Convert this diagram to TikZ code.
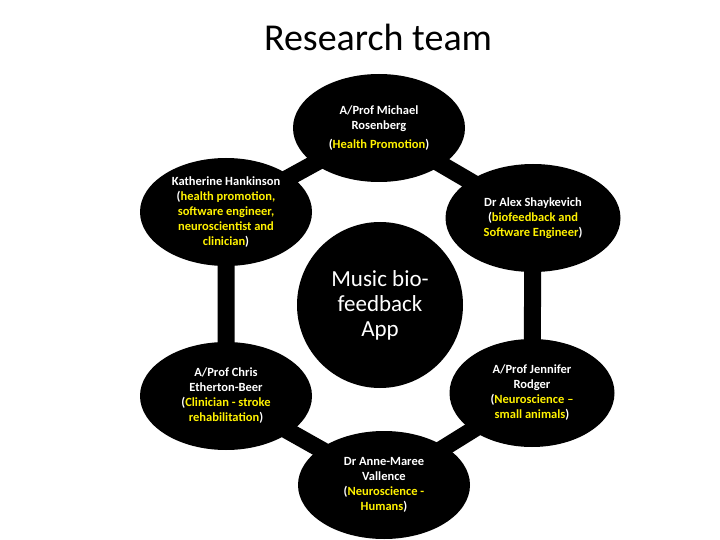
\documentclass[tikz,border=0pt]{standalone}
\usepackage{fontspec}
\setmainfont{Carlito}
\usetikzlibrary{shapes.geometric}
\begin{document}
\begin{tikzpicture}[x=1pt,y=-1pt,
  person/.style={ellipse,fill=black,text=white,minimum width=172pt,minimum height=108pt,align=center,inner sep=0pt,font=\bfseries\fontsize{12.5}{15}\selectfont},
  link/.style={line width=17pt,black}]
\useasboundingbox (0,0) rectangle (720,540);
\clip (0,0) rectangle (720,540);
\newcommand{\yl}[1]{\textcolor{yellow}{#1}}
\node (title) at (378,37) {\fontsize{38}{42}\selectfont Research team};
\coordinate (t) at (379,128);
\coordinate (ul) at (226,212);
\coordinate (ur) at (533,218);
\coordinate (ll) at (226,396);
\coordinate (lr) at (532,393);
\coordinate (b) at (384,485);
\draw[link] (t) -- (ur) -- (lr) -- (b) -- (ll) -- (ul) -- cycle;
\node[person] (nt) at (t) {A/Prof Michael\\Rosenberg\\[4pt](\yl{Health Promotion})};
\node[person] (nul) at (ul) {Katherine Hankinson\\(\yl{health promotion,}\\\yl{software engineer,}\\\yl{neuroscientist and}\\\yl{clinician})};
\node[person,minimum width=175pt] (nur) at (ur) {Dr Alex Shaykevich\\(\yl{biofeedback and}\\\yl{Software Engineer})};
\node[person] (nll) at (ll) {A/Prof Chris\\Etherton-Beer\\(\yl{Clinician -  stroke}\\\yl{rehabilitation})};
\node[person,minimum width=165pt] (nlr) at (lr) {A/Prof Jennifer\\Rodger\\(\yl{Neuroscience –}\\\yl{small animals})};
\node[person] (nb) at (b) {Dr Anne-Maree\\Vallence\\(\yl{Neuroscience  -}\\\yl{Humans})};
\node[circle,fill=black,text=white,minimum size=166pt,align=center,inner sep=0pt,font=\fontsize{23}{25}\selectfont] (c) at (380,305) {Music bio-\\feedback\\App};
\end{tikzpicture}
\end{document}
